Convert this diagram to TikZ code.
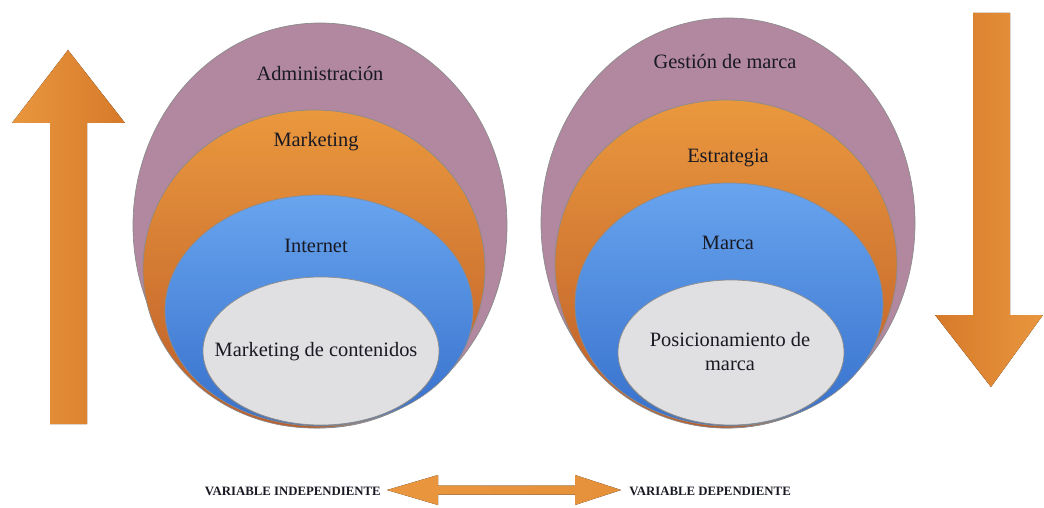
\documentclass[tikz,border=0pt]{standalone}
\usepackage{fontspec}
\setmainfont{Liberation Serif}
\usetikzlibrary{shapes.geometric,shadows}
\definecolor{purp}{RGB}{178,135,160}
\definecolor{orTop}{RGB}{234,152,62}
\definecolor{orBot}{RGB}{188,92,40}
\definecolor{blTop}{RGB}{104,164,238}
\definecolor{blBot}{RGB}{54,112,204}
\definecolor{wgray}{RGB}{224,224,226}
\definecolor{arrL}{RGB}{233,150,62}
\definecolor{arrR}{RGB}{214,122,42}
\definecolor{txt}{RGB}{25,25,35}
\tikzset{
  ring/.style={ellipse, inner sep=0pt, draw=black!45, line width=0.5pt},
  purpring/.style={ring, fill=purp},
  orring/.style={ring, top color=orTop, bottom color=orBot},
  blring/.style={ring, top color=blTop, bottom color=blBot},
  whring/.style={ring, fill=wgray, drop shadow={opacity=0.35, shadow xshift=0pt, shadow yshift=-1.2pt}},
  lbl/.style={font=\fontsize{14.5}{17.5}\selectfont, text=txt, align=center},
  varlbl/.style={font=\fontsize{9.1}{10}\selectfont\bfseries, text=txt, inner sep=0pt},
  bigarrow/.style={left color=arrL, right color=arrR, draw=none},
}
\begin{document}
\begin{tikzpicture}[x=0.025cm,y=0.025cm]
\useasboundingbox (0,0) rectangle (1044,507);
% left set
\node[purpring, minimum width=374*0.025cm, minimum height=405*0.025cm] (lp) at (320,281.5) {};
\node[orring, minimum width=342*0.025cm, minimum height=318*0.025cm] (lo) at (314,238) {};
\node[blring, minimum width=308*0.025cm, minimum height=231*0.025cm] (lb) at (319,196.5) {};
\node[whring, minimum width=236*0.025cm, minimum height=148*0.025cm] (lw) at (321,156) {};
\node[lbl] (t1) at (320,433) {Administración};
\node[lbl] (t2) at (316,365) {Marketing};
\node[lbl] (t3) at (316,261) {Internet};
\node[lbl] (t4) at (316,155) {Marketing de contenidos};
% right set
\node[purpring, minimum width=374*0.025cm, minimum height=410*0.025cm] (rp) at (728,284) {};
\node[orring, minimum width=342*0.025cm, minimum height=328*0.025cm] (ro) at (726,243) {};
\node[blring, minimum width=308*0.025cm, minimum height=243*0.025cm] (rb) at (729,202.5) {};
\node[whring, minimum width=226*0.025cm, minimum height=145*0.025cm] (rw) at (731,154.5) {};
\node[lbl] (s1) at (725,445) {Gestión de marca};
\node[lbl] (s2) at (728,349) {Estrategia};
\node[lbl] (s3) at (728,264) {Marca};
\node[lbl] (s4) at (730,155.5) {Posicionamiento de\\marca};
% up arrow
\fill[bigarrow] (50,83) -- (50,384) -- (12,384) -- (68,457) -- (125,384) -- (87,384) -- (87,83) -- cycle;
% down arrow
\fill[bigarrow, left color=arrR, right color=arrL] (973,494) -- (973,192) -- (935,192) -- (991,120) -- (1043,192) -- (1010,192) -- (1010,494) -- cycle;
% double arrow
\fill[bigarrow, left color=arrL, right color=arrL!80!arrR] (387,17) -- (438,32) -- (438,21.5) -- (575,21.5) -- (575,32) -- (621,17) -- (575,2) -- (575,12.5) -- (438,12.5) -- (438,2) -- cycle;
\node[varlbl, anchor=east] (vi) at (381,16) {VARIABLE INDEPENDIENTE};
\node[varlbl, anchor=west] (vd) at (629,16) {VARIABLE DEPENDIENTE};
\end{tikzpicture}
\end{document}
